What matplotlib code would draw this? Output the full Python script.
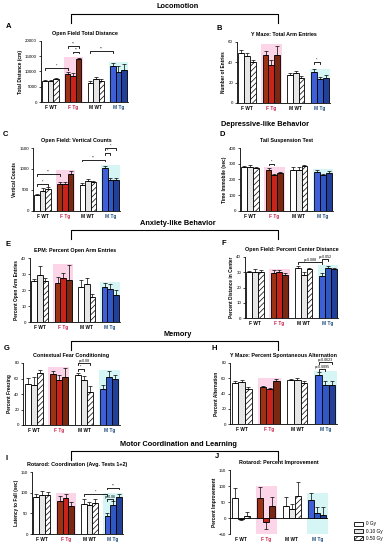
import matplotlib
matplotlib.use('Agg')
import matplotlib.pyplot as plt
from matplotlib.patches import Patch
import numpy as np

plt.rcParams['font.family'] = ['Liberation Sans', 'DejaVu Sans']
plt.rcParams['hatch.linewidth'] = 0.5

W, H = 387, 550

groups = ['F WT', 'F Tg', 'M WT', 'M Tg']
doses = ['0 Gy', '0.10 Gy', '0.50 Gy']

# means (rows = groups, cols = dose) and upper SEM
dist_mean = [[6800, 6800, 7500], [9100, 8600, 14000], [6300, 7500, 7000], [11800, 9700, 10400]]
dist_err = [[400, 400, 500], [600, 900, 500], [600, 700, 400], [900, 2000, 2000]]

entries_mean = [[49, 46.5, 40.3], [47.5, 37.7, 47.5], [27.5, 29.5, 24.6], [30.2, 23.6, 24.6]]
entries_err = [[3, 3, 2], [4, 5, 9], [2, 2, 2], [3, 2, 3]]

vert_mean = [[370, 480, 520], [650, 650, 890], [610, 720, 680], [1020, 735, 735]]
vert_err = [[30, 60, 40], [40, 40, 60], [50, 40, 40], [60, 60, 60]]

tail_mean = [[277, 281, 272], [262, 228, 240], [262, 262, 285], [247, 228, 243]]
tail_err = [[10, 8, 10], [10, 6, 8], [15, 15, 8], [15, 10, 8]]

epm_mean = [[25.6, 29.2, 25.4], [24.6, 27.5, 26.2], [22, 23.5, 15.6], [21.6, 20.6, 17]]
epm_err = [[1.5, 5.5, 2], [3.5, 3, 9.5], [4.5, 4, 2], [3, 3, 3]]

center_mean = [[30, 30.4, 30.2], [29.8, 30, 28.3], [32.5, 28.3, 31.9], [27.8, 33, 31.9]]
center_err = [[1, 1.5, 1], [2, 1.5, 1.5], [1.5, 2, 1], [2, 1, 1]]

fear_mean = [[52.9, 51.6, 67.7], [66.2, 58, 62], [64.5, 57.6, 42], [47, 62, 60]]
fear_err = [[8, 10, 3], [3, 7, 11], [3, 6, 8], [5, 8, 5]]

alt_mean = [[54, 55.5, 45.4], [48, 45.4, 56], [57.3, 58.2, 53.5], [63.8, 51, 51]]
alt_err = [[3, 2, 3], [2, 2, 3], [2, 2, 3], [4, 5, 5]]

rot_mean = [[88.4, 94.9, 94], [78.8, 87.6, 68], [73, 69, 74.6], [44.6, 69, 88.4]]
rot_err = [[8, 8, 8], [12, 10, 10], [12, 8, 10], [5, 10, 8]]

imp_mean = [[64, -2, 5], [62, -14, 37], [36, 28, 68], [56, 17, 10]]
imp_err = [[30, 3, 15], [35, 20, 30], [30, 15, 45], [22, 18, 25]]

faces = [['white', '#e6e6e6', 'white'],
         ['#9c3214', '#c8241c', '#7a2812'],
         ['white', '#e6e6e6', 'white'],
         ['#3f5fd8', '#2f58c4', '#22409a']]
hatches = [[None, None, '//////'], [None] * 3, [None, None, '//////'], [None] * 3]
label_cols = ['black', '#c8204a', 'black', '#1a4a7a']
span_cols = [None, '#fcd6e8', None, '#d6f6f6']

BW = 0.24


def px_axes(fig, x0, yt, x1, yb):
    return fig.add_axes([x0 / W, 1 - yb / H, (x1 - x0) / W, (yb - yt) / H])


def bx(g, i):
    return g + (i - 1) * BW


def sig(ax, a, b, y, txt, dy):
    ax.plot([a, a, b, b], [y - dy, y, y, y - dy], color='black', lw=0.6, clip_on=False)
    ax.text((a + b) / 2, y + dy * 0.3, txt, ha='center', va='bottom', fontsize=2.6, clip_on=False)


def panel(fig, box, mean, err, ylim, ticks, ylabel, title, letter, letter_x, sigs=()):
    ax = px_axes(fig, *box)
    top = ylim[1]
    for g in range(4):
        if span_cols[g]:
            hi = max(mean[g][i] + err[g][i] for i in range(3))
            ax.add_patch(plt.Rectangle((g - 0.42, ylim[0]), 0.84, hi * 1.02 - ylim[0],
                                       color=span_cols[g], zorder=0, lw=0))
        for i in range(3):
            m = mean[g][i]
            e = err[g][i]
            ax.bar(bx(g, i), m, BW, color=faces[g][i], edgecolor='black', lw=0.6,
                   hatch=hatches[g][i], zorder=2)
            if m >= 0:
                ax.errorbar(bx(g, i), m, yerr=[[0], [e]], color='black', lw=0.5,
                            capsize=1.2, capthick=0.5, zorder=3)
            else:
                ax.errorbar(bx(g, i), m, yerr=[[e], [0]], color='black', lw=0.5,
                            capsize=1.2, capthick=0.5, zorder=3)
    ax.set_xlim(-0.42, 3.42)
    ax.set_ylim(*ylim)
    ax.set_yticks(ticks)
    ax.tick_params(axis='y', labelsize=3.2, length=1.8, width=0.5, pad=1)
    ax.set_xticks(range(4))
    ax.set_xticklabels(groups, fontsize=3.4, fontweight='bold')
    for t, c in zip(ax.get_xticklabels(), label_cols):
        t.set_color(c)
    ax.tick_params(axis='x', length=0, pad=2)
    if ylim[0] < 0:
        ax.axhline(0, color='black', lw=0.6, zorder=1)
        ax.spines['bottom'].set_visible(False)
    for s in ['top', 'right']:
        ax.spines[s].set_visible(False)
    for s in ['left', 'bottom']:
        ax.spines[s].set_linewidth(0.6)
    ax.set_ylabel(ylabel, fontsize=3.4, fontweight='bold', labelpad=1.5)
    ax.set_title(title, fontsize=3.9, fontweight='bold', pad=4)
    fig.text(letter_x / W, 1 - (box[1] - 14) / H, letter, fontsize=5.5, fontweight='bold', va='center')
    dy = (ylim[1] - ylim[0]) * 0.025
    for a, b, y, txt in sigs:
        sig(ax, a, b, y, txt, dy)
    return ax


def header(fig, text, y, bracket=True, x=178):
    fig.text(x / W, 1 - y / H, text, ha='center', va='center', fontsize=5.3, fontweight='bold')
    if bracket:
        yl = y + 7
        fig.add_artist(plt.Line2D([71 / W, 71 / W, 278 / W, 278 / W],
                                  [1 - (yl + 9) / H, 1 - yl / H, 1 - yl / H, 1 - (yl + 9) / H],
                                  color='black', lw=0.8, transform=fig.transFigure))


fig = plt.figure(figsize=(W / 100, H / 100), dpi=100)

header(fig, 'Locomotion', 7)
panel(fig, (41, 41, 128, 102), dist_mean, dist_err, (0, 20000), [0, 5000, 10000, 15000, 20000],
      'Total Distance (cm)', 'Open Field Total Distance', 'A', 6,
      sigs=[(bx(0, 0), bx(1, 0), 11000, '*'), (bx(1, 1), bx(1, 2), 16500, '**'),
            (bx(1, 0), bx(1, 2), 18300, '**'), (bx(2, 0), bx(3, 0), 16700, '**')])
panel(fig, (237, 42, 330, 103), entries_mean, entries_err, (0, 60), [0, 20, 40, 60],
      'Number of Entries', 'Y Maze: Total Arm Entries', 'B', 217,
      sigs=[(bx(3, 0), bx(3, 1), 40, '*')])

panel(fig, (33, 148, 120, 211), vert_mean, vert_err, (0, 1500), [0, 500, 1000, 1500],
      'Vertical Counts', 'Open Field: Vertical Counts', 'C', 3,
      sigs=[(bx(0, 0), bx(0, 2), 640, '*'), (bx(0, 0), bx(1, 0), 880, '**'),
            (bx(2, 0), bx(3, 0), 1220, '**'), (bx(3, 0), bx(3, 1), 1380, '*'),
            (bx(3, 0), bx(3, 2), 1490, '*')])
header(fig, 'Depressive-like Behavior', 124, bracket=False, x=265)
panel(fig, (240, 148, 333, 211), tail_mean, tail_err, (0, 400), [0, 100, 200, 300, 400],
      'Time Immobile (sec)', 'Tail Suspension Test', 'D', 219,
      sigs=[(bx(1, 0), bx(1, 1), 300, '*')])

header(fig, 'Anxiety-like Behavior', 223)
panel(fig, (30, 258, 120, 322), epm_mean, epm_err, (0, 40), [0, 10, 20, 30, 40],
      'Percent Open Arm Entries', 'EPM: Percent Open Arm Entries', 'E', 5)
panel(fig, (245, 257, 338, 318), center_mean, center_err, (0, 40), [0, 10, 20, 30, 40],
      'Percent Distance in Center', 'Open Field: Percent Center Distance', 'F', 222,
      sigs=[(bx(2, 0), bx(3, 0), 36.5, 'p=0.088'), (bx(3, 0), bx(3, 1), 38.5, 'p=0.052')])

header(fig, 'Memory', 334)
panel(fig, (23, 363, 120, 425), fear_mean, fear_err, (0, 80), [0, 20, 40, 60, 80],
      'Percent Freezing', 'Contextual Fear Conditioning', 'G', 4,
      sigs=[(bx(2, 0), bx(2, 1), 72, '*'), (bx(2, 0), bx(2, 2), 80, 'p=0.08')])
panel(fig, (230, 363, 337, 424), alt_mean, alt_err, (0, 80), [0, 20, 40, 60, 80],
      'Percent Alternation', 'Y Maze: Percent Spontaneous Alternation', 'H', 211,
      sigs=[(bx(3, 0), bx(3, 1), 72, 'p=0.0895'), (bx(3, 0), bx(3, 2), 81, 'p=0.0623')])

header(fig, 'Motor Coordination and Learning', 444)
panel(fig, (32, 472, 123, 534), rot_mean, rot_err, (0, 150), [0, 50, 100, 150],
      'Latency to Fall (sec)', 'Rotarod: Coordination (Avg. Tests 1+2)', 'I', 5,
      sigs=[(bx(3, 0), bx(3, 1), 84, 'p=0.06'), (bx(2, 0), bx(3, 0), 96, '*'),
            (bx(3, 0), bx(3, 2), 112, '**')])
panel(fig, (230, 470, 328, 534), imp_mean, imp_err, (-50, 150), [-50, 0, 50, 100, 150],
      'Percent Improvement', 'Rotarod: Percent Improvement', 'J', 215)

handles = [Patch(facecolor='white', edgecolor='black', lw=0.6, label=doses[0]),
           Patch(facecolor='#e6e6e6', edgecolor='black', lw=0.6, label=doses[1]),
           Patch(facecolor='white', edgecolor='black', lw=0.6, hatch='//////', label=doses[2])]
fig.legend(handles=handles, loc='upper left', bbox_to_anchor=(350 / W, 1 - 517 / H),
           frameon=False, fontsize=3.4, handlelength=1.8, handleheight=0.9,
           labelspacing=0.5, handletextpad=0.6)

fig.savefig('out.png', dpi=100)
